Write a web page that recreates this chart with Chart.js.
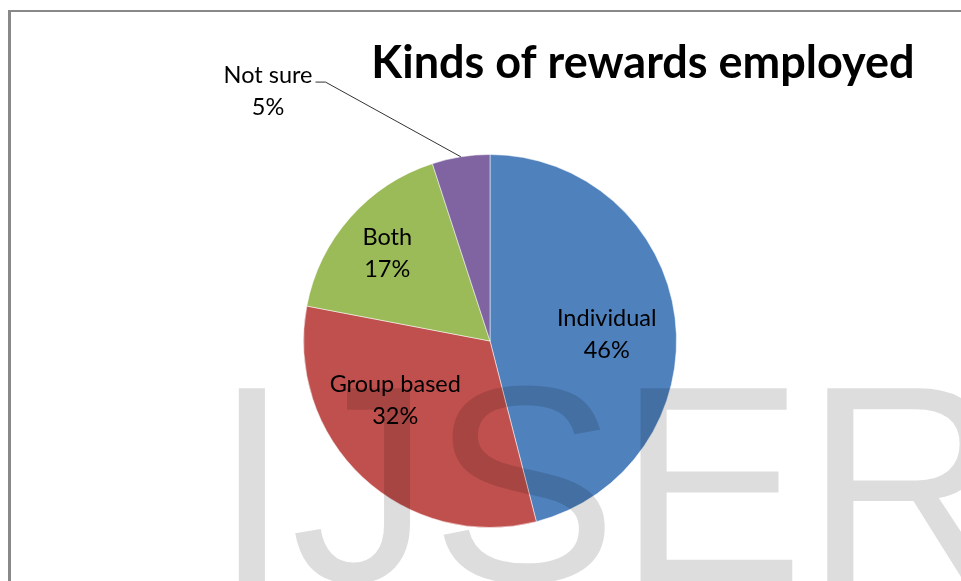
<!DOCTYPE html>
<html>
<head>
<meta charset="utf-8">
<title>Kinds of rewards employed</title>
<script src="https://cdn.jsdelivr.net/npm/chart.js@4"></script>
<style>
  html, body { margin: 0; padding: 0; background: #fff; }
  #wrap { position: relative; width: 961px; height: 581px; overflow: hidden; }
</style>
</head>
<body>
<div id="wrap">
  <canvas id="rewardsChart" width="961" height="581"></canvas>
</div>
<script>
const chartTitle = 'Kinds of rewards employed';
const categories = ['Individual', 'Group based', 'Both', 'Not sure'];
const percentages = [46, 32, 17, 5];
const sliceColors = ['#4F81BD', '#C0504D', '#9BBB59', '#8064A2'];

// where each data label sits, relative to the pie centre, in units of the radius
const labelOffsets = [
  [0.626, -0.035],
  [-0.508, 0.316],
  [-0.551, -0.468],
  [-1.19, -1.34],
];
const outsideLabel = [false, false, false, true];

const labelFont = '23.5px Lato';
const lineGap = 32;

const pageDecor = {
  id: 'pageDecor',
  beforeDraw(chart) {
    const ctx = chart.ctx;
    ctx.save();
    ctx.fillStyle = '#fff';
    ctx.fillRect(0, 0, chart.width, chart.height);
    // grey frame of the original figure (only left and top edges visible)
    ctx.fillStyle = '#888';
    ctx.fillRect(8, 10, 3, chart.height - 10);
    ctx.fillRect(8, 10, chart.width - 8, 2);
    ctx.restore();
  },
  afterDraw(chart) {
    const ctx = chart.ctx;
    const arcs = chart.getDatasetMeta(0).data;
    ctx.save();

    // title
    ctx.fillStyle = '#000';
    ctx.font = 'bold 45px Lato';
    ctx.textAlign = 'center';
    ctx.textBaseline = 'alphabetic';
    ctx.fillText(chartTitle, 643, 78);

    // data labels
    ctx.font = labelFont;
    ctx.textBaseline = 'middle';
    arcs.forEach((arc, i) => {
      const r = arc.outerRadius;
      const cx = arc.x + labelOffsets[i][0] * r;
      const cy = arc.y + labelOffsets[i][1] * r;
      const line1 = categories[i];
      const line2 = percentages[i] + '%';
      ctx.fillStyle = '#000';
      ctx.fillText(line1, cx, cy - lineGap / 2);
      ctx.fillText(line2, cx, cy + lineGap / 2);

      if (outsideLabel[i]) {
        // leader line from the label to the middle of the slice edge
        const mid = (arc.startAngle + arc.endAngle) / 2;
        const ex = arc.x + Math.cos(mid) * r;
        const ey = arc.y + Math.sin(mid) * r;
        const sx = cx + ctx.measureText(line1).width / 2 + 3;
        const sy = cy - lineGap / 2 + 7;
        ctx.strokeStyle = '#333';
        ctx.lineWidth = 1;
        ctx.beginPath();
        ctx.moveTo(sx, sy);
        ctx.lineTo(sx + 10, sy);
        ctx.lineTo(ex, ey);
        ctx.stroke();
      }
    });

    // IJSER watermark laid over the figure
    ctx.font = '280px "Liberation Sans"';
    ctx.textAlign = 'left';
    ctx.textBaseline = 'alphabetic';
    ctx.fillStyle = 'rgba(0, 0, 0, 0.135)';
    ctx.fillText('IJSER', 213, 581);
    ctx.restore();
  },
};

function createRewardsChart() {
  const ctx = document.getElementById('rewardsChart').getContext('2d');
  new Chart(ctx, {
    type: 'pie',
    data: {
      labels: categories,
      datasets: [
        {
          data: percentages,
          backgroundColor: sliceColors,
          borderColor: 'rgba(255,255,255,0.5)',
          borderWidth: 1,
          hoverOffset: 0,
        },
      ],
    },
    options: {
      responsive: false,
      animation: false,
      layout: { padding: { left: 303, right: 284, top: 154, bottom: 53 } },
      plugins: {
        legend: { display: false },
        tooltip: { enabled: false },
        title: { display: false },
      },
    },
    plugins: [pageDecor],
  });
}

createRewardsChart();
</script>
</body>
</html>
